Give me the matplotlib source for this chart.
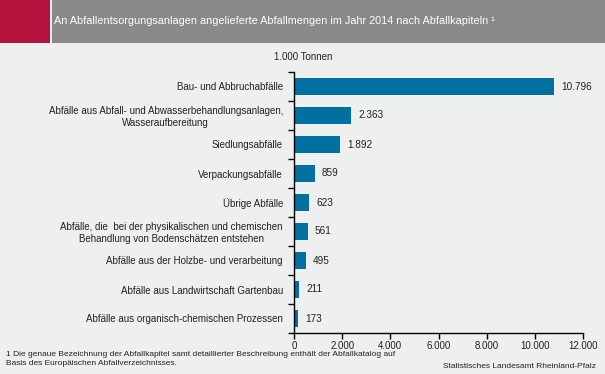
import matplotlib

matplotlib.use("Agg", force=True)
import matplotlib.pyplot as plt
from matplotlib.patches import Rectangle
from matplotlib.ticker import FuncFormatter

categories = [
    "Bau- und Abbruchabfälle",
    "Abfälle aus Abfall- und Abwasserbehandlungsanlagen,\nWasseraufbereitung",
    "Siedlungsabfälle",
    "Verpackungsabfälle",
    "Übrige Abfälle",
    "Abfälle, die  bei der physikalischen und chemischen\nBehandlung von Bodenschätzen entstehen",
    "Abfälle aus der Holzbe- und verarbeitung",
    "Abfälle aus Landwirtschaft Gartenbau",
    "Abfälle aus organisch-chemischen Prozessen",
]
values = [10796, 2363, 1892, 859, 623, 561, 495, 211, 173]
xticks = [0, 2000, 4000, 6000, 8000, 10000, 12000]

title = "An Abfallentsorgungsanlagen angelieferte Abfallmengen im Jahr 2014 nach Abfallkapiteln ¹"
unit = "1.000 Tonnen"
footnote = ("1 Die genaue Bezeichnung der Abfallkapitel samt detaillierter Beschreibung enthält der Abfallkatalog auf\n"
            "Basis des Europäischen Abfallverzeichnisses.")
source = "Statistisches Landesamt Rheinland-Pfalz"

BG = "#EEEFEF"
BAR = "#0070A0"
RED = "#B5123E"
GREY = "#898989"


def dots(v, _pos=None):
    return f"{int(v):,}".replace(",", ".")


plt.rcParams["font.family"] = ["Liberation Sans", "DejaVu Sans"]
W, H = 605, 374
fig = plt.figure(figsize=(W / 100, H / 100), dpi=100, facecolor=BG)

# header band
fig.patches.append(Rectangle((0, 1 - 43 / H), 50 / W, 43 / H, transform=fig.transFigure,
                             facecolor=RED, edgecolor="none"))
fig.patches.append(Rectangle((52 / W, 1 - 43 / H), 1 - 52 / W, 43 / H, transform=fig.transFigure,
                             facecolor=GREY, edgecolor="none"))
fig.text(54 / W, 1 - 21 / H, title, color="white", fontsize=7.8, va="center", ha="left")

ax = fig.add_axes([294 / W, 1 - 333 / H, (583 - 294) / W, (333 - 72) / H])
ax.set_facecolor(BG)
n = len(categories)
ypos = list(range(n))
ax.barh(ypos, values, height=0.62, color=BAR)
ax.set_ylim(n - 0.5, -0.5)
ax.set_xlim(0, 12000)

for y, v in zip(ypos, values):
    ax.text(v + 300, y, dots(v), va="center", ha="left", fontsize=7.2, color="#222222")

# category boundaries get the ticks, labels sit on the bar centres
ax.set_yticks([i - 0.5 for i in range(n + 1)])
ax.set_yticklabels([])
ax.set_yticks(ypos, minor=True)
ax.set_yticklabels(categories, minor=True, fontsize=7, color="#222222", multialignment="center")
ax.tick_params(axis="y", which="minor", length=0, pad=8)
ax.tick_params(axis="y", which="major", length=4, width=1, direction="out")

ax.set_xticks(xticks)
ax.xaxis.set_major_formatter(FuncFormatter(dots))
ax.tick_params(axis="x", length=4, width=1, labelsize=7, labelcolor="#222222", pad=2)

for s in ("top", "right"):
    ax.spines[s].set_visible(False)
ax.spines["left"].set_linewidth(1)
ax.spines["bottom"].set_linewidth(1)

fig.text(303 / W, 1 - 57 / H, unit, fontsize=7, ha="center", va="center", color="#222222")
fig.text(6 / W, 1 - 359 / H, footnote, fontsize=6, ha="left", va="center", color="#222222",
         linespacing=1.3)
fig.text(596 / W, 1 - 366 / H, source, fontsize=6, ha="right", va="center", color="#222222")

fig.savefig("out.png", dpi=100, facecolor=BG)
